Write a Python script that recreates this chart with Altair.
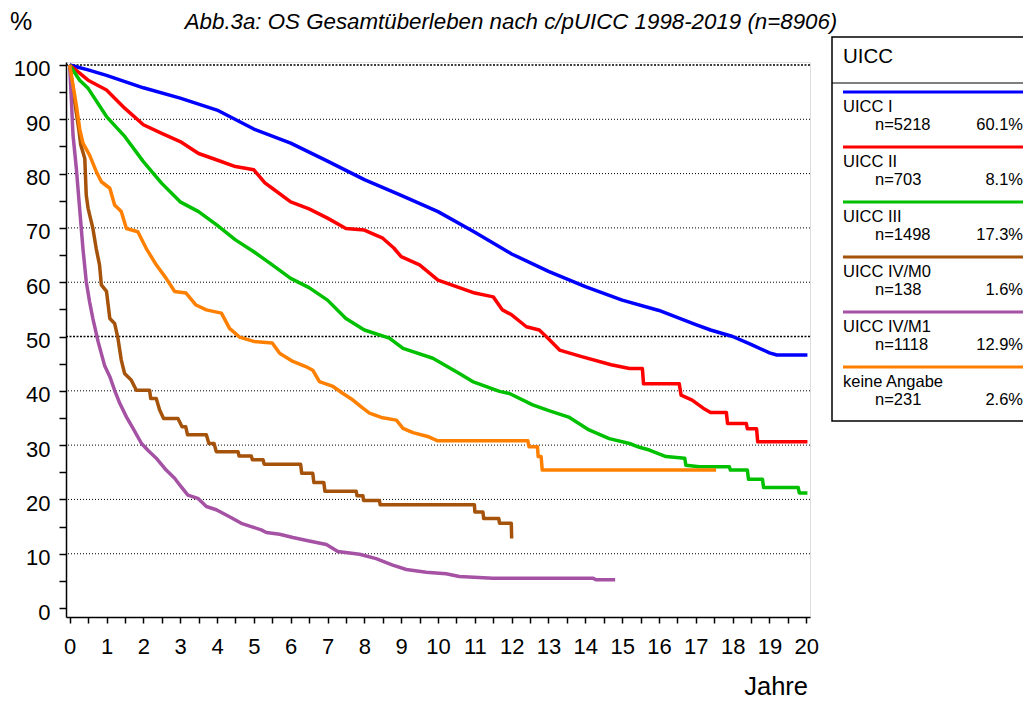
import altair as alt
import pandas as pd

FONT = "Liberation Sans"

# ---------------- data ----------------
groups = ["UICC I", "UICC II", "UICC III", "UICC IV/M0", "UICC IV/M1", "keine Angabe"]
colors = ["#0000FF", "#FF0000", "#00C000", "#A5520A", "#A552A5", "#FF8000"]
n_labels = ["n=5218", "n=703", "n=1498", "n=138", "n=1118", "n=231"]
pct_labels = ["60.1%", "8.1%", "17.3%", "1.6%", "12.9%", "2.6%"]

uicc1_t = [0, 0.5, 1, 2, 3, 4, 5, 6, 7, 8, 9, 10, 11, 12, 13, 14, 15, 16, 17, 17.4, 18, 18.45, 19.0, 19.2, 20.03]
uicc1_s = [100, 99.1, 98.1, 95.8, 93.9, 91.7, 88.2, 85.6, 82.3, 78.9, 76.0, 73.0, 69.2, 65.2, 62.0, 59.2, 56.7, 54.8, 52.2, 51.2, 50.0, 48.7, 47.0, 46.6, 46.6]

uicc2_t = [0, 0.27, 0.5, 1, 1.5, 2, 2.5, 3, 3.5, 4, 4.5, 5, 5.3, 5.5, 6, 6.5, 7, 7.5, 8, 8.5, 8.8, 9, 9.5, 10, 10.5, 11, 11.5, 11.75, 12.0, 12.4, 12.75, 13.0, 13.3, 13.9, 14.7, 15.2, 15.55, 15.58, 16.55, 16.6, 16.9, 17.2, 17.4, 17.83, 17.86, 18.37, 18.4, 18.65, 18.68, 20.03]
uicc2_s = [100, 98.5, 97.2, 95.4, 92.0, 89.0, 87.4, 85.9, 83.7, 82.5, 81.3, 80.7, 78.3, 77.3, 74.8, 73.5, 71.8, 69.9, 69.6, 68.1, 66.3, 64.7, 63.2, 60.4, 59.2, 58.0, 57.3, 54.9, 54.0, 51.8, 51.2, 49.6, 47.5, 46.3, 44.8, 44.1, 44.1, 41.3, 41.3, 39.2, 38.3, 36.8, 36.0, 36.0, 34.0, 34.0, 33.0, 33.0, 30.6, 30.6]

uicc3_t = [0, 0.27, 0.5, 1, 1.5, 2, 2.5, 3, 3.5, 4, 4.5, 5, 5.5, 6, 6.5, 7, 7.5, 8, 8.68, 9.05, 9.86, 10.58, 10.94, 11.67, 11.94, 12.57, 13.03, 13.57, 14.1, 14.65, 15.2, 15.47, 15.74, 16.19, 16.7, 16.73, 17.1, 17.91, 17.94, 18.4, 18.43, 18.81, 18.84, 19.78, 19.81, 20.03]
uicc3_s = [100, 97.2, 95.7, 90.5, 86.8, 82.2, 78.2, 74.8, 73.0, 70.5, 67.8, 65.6, 63.2, 60.7, 59.0, 56.7, 53.3, 51.2, 49.7, 47.8, 46.0, 43.2, 41.7, 39.9, 39.5, 37.4, 36.3, 35.1, 32.8, 31.2, 30.3, 29.6, 29.1, 27.9, 27.6, 26.3, 26.0, 26.0, 25.4, 25.4, 23.7, 23.7, 22.2, 22.2, 21.2, 21.2]

m0_t = [0, 0.13, 0.25, 0.3, 0.41, 0.45, 0.5, 0.63, 0.72, 0.81, 0.86, 1.0, 1.09, 1.22, 1.31, 1.4, 1.49, 1.67, 1.81, 2.17, 2.2, 2.35, 2.44, 2.55, 2.94, 3.05, 3.15, 3.2, 3.71, 3.78, 3.92, 3.98, 4.57, 4.6, 4.93, 4.96, 5.25, 5.28, 6.27, 6.3, 6.6, 6.63, 6.9, 6.93, 7.78, 7.8, 7.96, 7.98, 8.41, 8.43, 10.99, 11.0, 11.22, 11.24, 11.65, 11.67, 11.99, 12.0]
m0_s = [100, 93.5, 88.0, 85.3, 82.8, 76.0, 73.6, 69.9, 66.2, 63.2, 59.5, 58.3, 53.3, 52.4, 49.7, 45.7, 43.2, 42.0, 40.1, 40.1, 38.6, 38.6, 36.5, 34.9, 34.9, 33.4, 33.4, 31.9, 31.9, 30.3, 30.3, 28.8, 28.8, 28.0, 28.0, 27.3, 27.3, 26.5, 26.5, 24.8, 24.8, 23.1, 23.1, 21.5, 21.5, 20.7, 20.7, 19.8, 19.8, 19.0, 19.0, 17.7, 17.7, 16.5, 16.5, 15.6, 15.6, 12.8]

m1_t = [0, 0.05, 0.09, 0.18, 0.27, 0.36, 0.45, 0.54, 0.63, 0.77, 0.95, 1.09, 1.22, 1.36, 1.54, 1.72, 1.95, 2.13, 2.35, 2.62, 2.85, 3.03, 3.21, 3.48, 3.71, 3.98, 4.34, 4.66, 4.97, 5.2, 5.34, 5.7, 6.06, 6.47, 6.97, 7.28, 7.87, 8.32, 8.77, 9.14, 9.68, 10.22, 10.58, 11.49, 14.2, 14.3, 14.81]
m1_s = [100, 93.0, 87.1, 81.0, 73.6, 66.2, 60.1, 56.4, 53.3, 49.1, 44.6, 42.6, 40.1, 37.7, 35.2, 33.1, 30.3, 29.0, 27.6, 25.4, 23.9, 22.3, 20.8, 20.2, 18.7, 18.1, 16.8, 15.6, 14.9, 14.4, 13.9, 13.6, 13.0, 12.4, 11.7, 10.4, 9.9, 9.1, 7.9, 7.1, 6.6, 6.3, 5.8, 5.5, 5.5, 5.2, 5.2]

na_t = [0, 0.09, 0.18, 0.27, 0.36, 0.54, 0.72, 0.86, 1.09, 1.22, 1.4, 1.54, 1.85, 2.08, 2.35, 2.62, 2.85, 3.16, 3.43, 3.71, 4.12, 4.34, 4.61, 5.0, 5.5, 5.7, 6.06, 6.46, 6.6, 6.78, 7.15, 7.42, 7.69, 7.96, 8.14, 8.46, 8.87, 9.05, 9.32, 9.72, 9.99, 12.44, 12.47, 12.7, 12.72, 12.8, 12.83, 17.55]
na_s = [100, 96.3, 92.6, 88.3, 85.6, 83.4, 80.4, 78.5, 77.3, 74.2, 73.0, 69.9, 69.3, 66.2, 63.2, 60.7, 58.3, 58.0, 55.8, 54.9, 54.3, 51.5, 49.9, 49.1, 48.8, 46.9, 45.4, 44.3, 43.8, 41.7, 40.8, 39.5, 38.3, 36.8, 35.9, 35.1, 34.6, 33.1, 32.3, 31.6, 30.8, 30.8, 29.7, 29.7, 27.9, 27.9, 25.4, 25.4]

grid_minor = [10, 20, 30, 40, 60, 70, 80, 90]
grid_major = [50, 100]
x_ticks = [i * 0.5 for i in range(41)]
y_ticks = list(range(0, 101, 5))

# ---------------- tables ----------------
series = [(groups[0], uicc1_t, uicc1_s), (groups[1], uicc2_t, uicc2_s),
          (groups[2], uicc3_t, uicc3_s), (groups[3], m0_t, m0_s),
          (groups[4], m1_t, m1_s), (groups[5], na_t, na_s)]
rows = []
for name, ts, ss in series:
    for i, (t, s) in enumerate(zip(ts, ss)):
        rows.append({"group": name, "t": t, "s": s, "i": i})
curves = pd.DataFrame(rows)

legend_df = pd.DataFrame({"group": groups, "n": n_labels, "pct": pct_labels,
                          "idx": list(range(len(groups)))})
one = pd.DataFrame({"a": [0]})

xscale = alt.Scale(domain=[-0.1, 20.1], nice=False, zero=False)
yscale = alt.Scale(domain=[-1.65, 100.55], nice=False, zero=False)
cscale = alt.Scale(domain=groups, range=colors)

axis_common = dict(labelFont=FONT, labelFontSize=22, labelColor="black",
                   domainColor="black", domainWidth=1.5, tickColor="black",
                   tickWidth=1.5, grid=False, title=None,
                   labelOverlap=False, labelFlush=False)

grid1 = alt.Chart(pd.DataFrame({"g": grid_minor})).mark_rule(
    color="black", strokeWidth=1, strokeDash=[1, 2]
).encode(y=alt.Y("g:Q", scale=yscale, axis=None))

grid2 = alt.Chart(pd.DataFrame({"g": grid_major})).mark_rule(
    color="black", strokeWidth=1.4, strokeDash=[2, 1.5]
).encode(y=alt.Y("g:Q", scale=yscale, axis=None))

lines = alt.Chart(curves).mark_line(strokeWidth=3.5, strokeJoin="round").encode(
    x=alt.X("t:Q", scale=xscale,
            axis=alt.Axis(values=x_ticks, tickSize=6, labelPadding=13,
                          labelExpr="datum.value % 1 == 0 ? format(datum.value, 'd') : ''",
                          **axis_common)),
    y=alt.Y("s:Q", scale=yscale,
            axis=alt.Axis(values=y_ticks, tickSize=7, labelPadding=9, labelOffset=4,
                          labelExpr="datum.value % 10 == 0 ? format(datum.value, 'd') : ''",
                          **axis_common)),
    color=alt.Color("group:N", scale=cscale, legend=None),
    detail="group:N",
    order=alt.Order("i:Q"),
)

title_txt = alt.Chart(one).mark_text(
    text="Abb.3a: OS Gesamtüberleben nach c/pUICC 1998-2019 (n=8906)",
    font=FONT, fontSize=22.3, fontStyle="italic", color="black",
    align="center", baseline="alphabetic"
).encode(x=alt.value(445), y=alt.value(-33))

pct_axis_txt = alt.Chart(one).mark_text(
    text="%", font=FONT, fontSize=25, color="black", align="left", baseline="alphabetic"
).encode(x=alt.value(-56), y=alt.value(-32))

jahre_txt = alt.Chart(one).mark_text(
    text="Jahre", font=FONT, fontSize=25.5, color="black", align="right", baseline="alphabetic"
).encode(x=alt.value(742), y=alt.value(633))

# ---------------- legend box ----------------
LX0, LX1 = 766, 1000
box = alt.Chart(one).mark_rect(fill="white", stroke="black", strokeWidth=1.5).encode(
    x=alt.value(LX0), x2=alt.value(LX1), y=alt.value(-25), y2=alt.value(359))
hdr = alt.Chart(one).mark_text(text="UICC", font=FONT, fontSize=20.5, color="black",
                               align="left", baseline="middle").encode(
    x=alt.value(777), y=alt.value(-5))
sep = alt.Chart(one).mark_rule(color="black", strokeWidth=1.2).encode(
    x=alt.value(LX0), x2=alt.value(LX1), y=alt.value(21))

leg_base = alt.Chart(legend_df).transform_calculate(
    ly="30 + 55 * datum.idx", ly1="45 + 55 * datum.idx", ly2="62.5 + 55 * datum.idx")
leg_lines = leg_base.mark_rule(strokeWidth=3).encode(
    x=alt.value(777), x2=alt.value(LX1),
    y=alt.Y("ly:Q", scale=None, axis=None),
    color=alt.Color("group:N", scale=cscale, legend=None))
leg_name = leg_base.mark_text(font=FONT, fontSize=16.5, color="black", align="left",
                              baseline="middle").encode(
    x=alt.value(777), y=alt.Y("ly1:Q", scale=None, axis=None), text="group:N")
leg_n = leg_base.mark_text(font=FONT, fontSize=16.5, color="black", align="left",
                           baseline="middle").encode(
    x=alt.value(809), y=alt.Y("ly2:Q", scale=None, axis=None), text="n:N")
leg_pct = leg_base.mark_text(font=FONT, fontSize=16.5, color="black", align="right",
                             baseline="middle").encode(
    x=alt.value(957), y=alt.Y("ly2:Q", scale=None, axis=None), text="pct:N")

chart = alt.layer(
    grid1, grid2, lines, title_txt, pct_axis_txt, jahre_txt,
    box, hdr, sep, leg_lines, leg_name, leg_n, leg_pct
).resolve_scale(y="independent", color="shared").properties(
    width=744, height=555,
    autosize=alt.AutoSizeParams(type="none"),
    padding={"left": 58, "top": 54, "right": 213, "bottom": 86},
).configure_view(stroke=None).configure(background="white")

chart.save("out.html", embed_options={"renderer": "svg", "actions": False})
